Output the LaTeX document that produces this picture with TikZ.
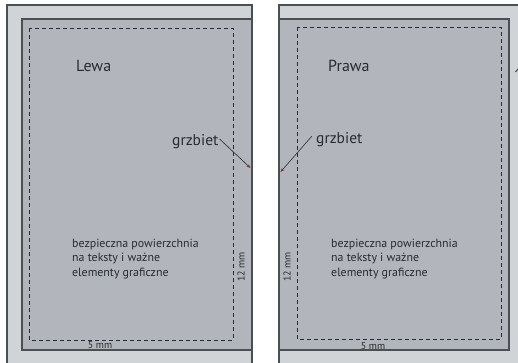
\documentclass[tikz,border=0pt]{standalone}
\usepackage{fontspec}
\setmainfont{PT Sans}
\usetikzlibrary{arrows.meta}
\definecolor{outerc}{HTML}{D1D4D7}
\definecolor{innerc}{HTML}{B2B5BC}
\definecolor{edgec}{HTML}{4A5052}
\definecolor{txtc}{HTML}{262C31}
\definecolor{tipc}{HTML}{8A2B2B}
\tikzset{
  outerpage/.style={fill=outerc,draw=edgec,line width=1.3pt},
  innerpage/.style={fill=innerc,draw=edgec,line width=1.3pt},
  safezone/.style={draw=txtc,line width=0.8pt,dash pattern=on 4pt off 3pt},
  pagetitle/.style={text=txtc,font=\fontsize{16}{18}\selectfont,inner sep=0pt},
  spinelabel/.style={text=txtc,font=\fontsize{15.5}{18}\selectfont,inner sep=0pt},
  bodytext/.style={text=txtc,font=\fontsize{11.9}{14.5}\selectfont,align=left,inner sep=0pt},
  dimtext/.style={text=txtc,font=\fontsize{10}{12}\selectfont,inner sep=0pt},
  pointer/.style={draw=txtc,line width=0.6pt,-{Stealth[length=4pt,width=3pt,color=tipc,fill=tipc]}}
}
\begin{document}
\begin{tikzpicture}[x=1pt,y=-1pt]
\useasboundingbox (0,0) rectangle (518,363);
\clip (0,0) rectangle (518,363);
\fill[white] (0,0) rectangle (518,363);
% left page
\draw[outerpage] (7,5) rectangle (252,375);
\draw[innerpage] (22,19) rectangle (252,350);
\draw[safezone] (29,28) rectangle (233,340);
% right page
\draw[outerpage] (279,5) rectangle (530,375);
\draw[innerpage] (279,19) rectangle (509,350);
\draw[safezone] (297,27) rectangle (501,339);
% titles
\node[pagetitle,anchor=west] (lewa) at (76,66) {Lewa};
\node[pagetitle,anchor=west] (prawa) at (328,66) {Prawa};
% spine labels
\node[spinelabel,anchor=west] (gl) at (172,142) {grzbiet};
\node[spinelabel,anchor=west] (gr) at (316,140) {grzbiet};
\coordinate (spl) at (250.5,168);
\coordinate (spr) at (280.5,172);
\draw[pointer] ([xshift=1pt,yshift=3pt]gl.east) -- (spl);
\draw[pointer] ([xshift=-4pt,yshift=4pt]gr.west) -- (spr);
% body texts
\node[bodytext,anchor=north west] (bl) at (72,238.5) {bezpieczna powierzchnia\\na teksty i ważne\\elementy graficzne};
\node[bodytext,anchor=north west] (br) at (331,238.5) {bezpieczna powierzchnia\\na teksty i ważne\\elementy graficzne};
% dimensions
\node[dimtext,rotate=90] (dl) at (241,267) {12 mm};
\node[dimtext,rotate=90] (dr) at (287,267) {12 mm};
\node[dimtext] (wl) at (100,345.5) {5 mm};
\node[dimtext] (wr) at (373,346.5) {5 mm};
% cut-off mark at right edge
\coordinate (m1) at (515.5,72);
\coordinate (m2) at (519,68);
\draw[txtc,line width=0.8pt] (m1) -- (m2);
\end{tikzpicture}
\end{document}
